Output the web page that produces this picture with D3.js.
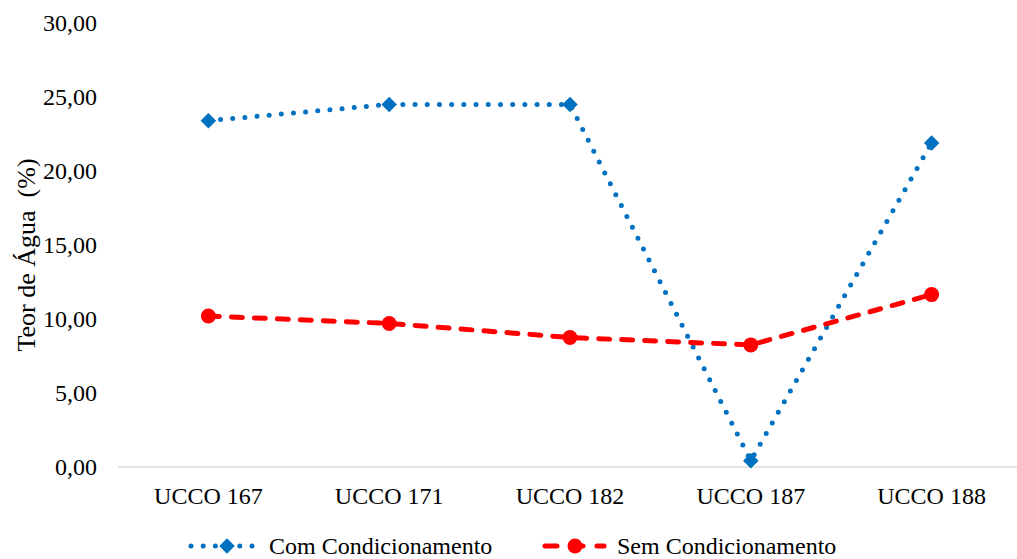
<!DOCTYPE html>
<html>
<head>
<meta charset="utf-8">
<script src="https://cdn.jsdelivr.net/npm/d3@7"></script>
<style>
  html, body { margin: 0; padding: 0; background: #fff; }
  svg, svg text { font-family: 'Liberation Serif', 'Times New Roman', Times, serif !important; }
</style>
</head>
<body>
<svg id="chart" width="1017" height="559"></svg>
<script>
// Sample identifiers along the x axis
const categories = ["UCCO 167", "UCCO 171", "UCCO 182", "UCCO 187", "UCCO 188"];
// Water content (%) per sample
const comCondicionamento = [23.4, 24.5, 24.5, 0.43, 21.9];
const semCondicionamento = [10.2, 9.7, 8.75, 8.25, 11.65];
// Y axis ticks
const yTicks = [0, 5, 10, 15, 20, 25, 30];

const seriesNames = ["Com Condicionamento", "Sem Condicionamento"];
const fmt = v => d3.format(".2f")(v).replace(".", ",");

const svg = d3.select("#chart");
const margin = { left: 118, right: -5, top: 23, bottom: 92 };
const W = 1017, H = 559;

const x = d3.scaleBand().domain(categories).range([margin.left, W - margin.right]);
const y = d3.scaleLinear().domain([0, 30]).range([H - margin.bottom, margin.top]);

// Baseline
svg.append("line")
  .attr("x1", margin.left).attr("x2", W)
  .attr("y1", y(0)).attr("y2", y(0))
  .attr("stroke", "#d9d9d9").attr("stroke-width", 1.5);

// Y tick labels
const yAxis = d3.axisLeft(y).tickValues(yTicks).tickFormat(fmt).tickSize(0).tickPadding(0);
const yg = svg.append("g").attr("transform", "translate(97,0)").call(yAxis);
yg.attr("font-family", null);
yg.select(".domain").remove();
yg.selectAll("text").attr("font-size", 24).attr("fill", "#000").attr("dy", "0.33em");

// X category labels
const xAxis = d3.axisBottom(x).tickSize(0).tickPadding(0);
const xg = svg.append("g").attr("transform", `translate(0,${y(0)})`).call(xAxis);
xg.attr("font-family", null);
xg.select(".domain").remove();
xg.selectAll("text").attr("font-size", 24).attr("fill", "#000").attr("dy", "0").attr("y", 37);

// Y axis title
svg.append("text")
  .attr("transform", "translate(35,255) rotate(-90)")
  .attr("text-anchor", "middle")
  .attr("font-size", 26)
  .style("white-space", "pre")
  .text("Teor de Água  (%)");

const cx = c => x(c) + x.bandwidth() / 2;
const line = d3.line().x((d, i) => cx(categories[i])).y(d => y(d));

const blue = "#0070c0", red = "#ff0000";

// Com Condicionamento: round-dot line with diamond markers
svg.append("path").datum(comCondicionamento)
  .attr("d", line).attr("fill", "none")
  .attr("stroke", blue).attr("stroke-width", 5)
  .attr("stroke-linecap", "round").attr("stroke-dasharray", "0 12.2");
const diamond = d3.symbol().type(d3.symbolSquare).size(120);
svg.selectAll(".dm").data(comCondicionamento).enter().append("path")
  .attr("d", diamond).attr("fill", blue)
  .attr("transform", (d, i) => `translate(${cx(categories[i])},${y(d)}) rotate(45)`);

// Sem Condicionamento: dashed line with circle markers
svg.append("path").datum(semCondicionamento)
  .attr("d", line).attr("fill", "none")
  .attr("stroke", red).attr("stroke-width", 5)
  .attr("stroke-linecap", "round").attr("stroke-dasharray", "11 12");
svg.selectAll(".cm").data(semCondicionamento).enter().append("circle")
  .attr("cx", (d, i) => cx(categories[i])).attr("cy", d => y(d))
  .attr("r", 7.5).attr("fill", red);

// Legend
const ly = 546;
const lg = svg.append("g");
lg.append("line").attr("x1", 191).attr("x2", 257).attr("y1", ly).attr("y2", ly)
  .attr("stroke", blue).attr("stroke-width", 5).attr("stroke-linecap", "round")
  .attr("stroke-dasharray", "0 12.2");
lg.append("path").attr("d", diamond).attr("fill", blue)
  .attr("transform", `translate(227,${ly}) rotate(45)`);
lg.append("text").attr("x", 269).attr("y", ly).attr("dy", "0.33em")
  .attr("font-size", 24).text(seriesNames[0]);

lg.append("line").attr("x1", 545).attr("x2", 604).attr("y1", ly).attr("y2", ly)
  .attr("stroke", red).attr("stroke-width", 5).attr("stroke-linecap", "round")
  .attr("stroke-dasharray", "12 14");
lg.append("circle").attr("cx", 575).attr("cy", ly).attr("r", 7.5).attr("fill", red);
lg.append("text").attr("x", 617).attr("y", ly).attr("dy", "0.33em")
  .attr("font-size", 24).text(seriesNames[1]);
</script>
</body>
</html>
